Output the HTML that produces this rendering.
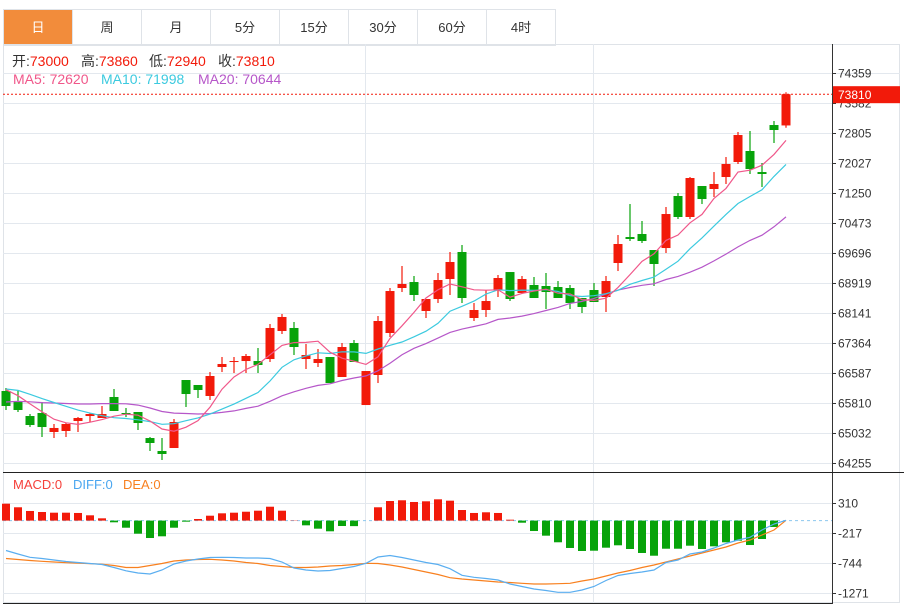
<!DOCTYPE html>
<html><head><meta charset="utf-8">
<style>
body{margin:0;background:#fff;width:904px;height:605px;overflow:hidden;font-family:"Liberation Sans","Noto Sans CJK SC",sans-serif;}
#wrap{position:relative;width:904px;height:605px;}
.tabs{position:absolute;left:3px;top:9px;height:35px;display:flex;border:1px solid #dfe3e8;border-right:none;}
.tab{width:69px;height:35px;border-right:1px solid #dfe3e8;text-align:center;line-height:35px;font-size:13px;color:#333;box-sizing:border-box;}
.tab.active{background:#f28c3b;color:#fff;}
.lg{position:absolute;font-size:14px;white-space:nowrap;line-height:16px;}
.lm{position:absolute;font-size:13px;white-space:nowrap;line-height:16px;}
</style></head><body>
<div id="wrap">
<div class="tabs">
<div class="tab active">日</div>
<div class="tab">周</div>
<div class="tab">月</div>
<div class="tab">5分</div>
<div class="tab">15分</div>
<div class="tab">30分</div>
<div class="tab">60分</div>
<div class="tab">4时</div>
</div>
<svg id="chart" width="904" height="605" style="position:absolute;left:0;top:0"></svg>
<div>
<span class="lg" style="left:12px;top:53px"><span style="color:#333">开:</span><span style="color:#f21a0a">73000</span></span>
<span class="lg" style="left:81px;top:53px"><span style="color:#333">高:</span><span style="color:#f21a0a">73860</span></span>
<span class="lg" style="left:149px;top:53px"><span style="color:#333">低:</span><span style="color:#f21a0a">72940</span></span>
<span class="lg" style="left:218px;top:53px"><span style="color:#333">收:</span><span style="color:#f21a0a">73810</span></span>
</div>
<div>
<span class="lg" style="left:13px;top:71px;color:#f0578a">MA5: 72620</span>
<span class="lg" style="left:101px;top:71px;color:#3ccadf">MA10: 71998</span>
<span class="lg" style="left:198px;top:71px;color:#b657c9">MA20: 70644</span>
</div>
<div>
<span class="lm" style="left:13px;top:477px;color:#f5403a">MACD:0</span>
<span class="lm" style="left:73px;top:477px;color:#4aa6f0">DIFF:0</span>
<span class="lm" style="left:123px;top:477px;color:#f8801f">DEA:0</span>
</div>
</div>
<script>
const openV=[66119,65860,65471,65549,65057,65083,65342,65471,65420,65964,65549,65575,64901,64565,64642,66404,66275,65990,66741,66871,66896,66896,66948,67674,67752,66948,66845,67000,66482,67363,65756,66534,67622,68788,68943,68192,68503,69021,69721,68011,68218,68736,69202,68658,68866,68840,68814,68788,68529,68736,68555,69436,70109,70187,69772,69824,71172,70628,71431,71353,71664,72053,72338,71793,73011,73000];
const highV=[66197,66145,65523,65834,65264,65290,65445,65549,65731,66171,65679,65575,64927,64901,65394,66404,66275,66611,67000,67000,67078,67233,67855,68114,67907,67337,67207,67000,67363,67441,66637,68062,68788,69358,69099,68503,69177,69721,69902,68399,68736,69125,69202,69099,69073,69177,68969,68866,68529,68917,69099,70161,70964,70524,69772,70887,71249,71664,71431,71793,72182,72830,72856,72027,73115,73860];
const lowV=[65627,65575,65186,64927,64901,64927,65057,65316,65420,65601,65445,65109,64565,64331,64642,65705,65938,65886,66611,66586,66586,66586,66871,67596,67052,66689,66741,66326,66482,66871,65756,66326,67518,68684,68451,68011,68399,68607,68399,67933,68037,68555,68451,68658,68529,68244,68529,68244,68140,68425,68166,69228,70006,69954,68840,69695,70576,70576,70964,71146,71483,72001,71742,71405,72545,72940];
const closeV=[65731,65627,65238,65186,65161,65264,65420,65523,65523,65601,65523,65290,64772,64487,65316,66041,66145,66508,66819,66896,67026,66793,67752,68037,67259,67052,66948,66326,67259,66871,66637,67933,68710,68892,68607,68503,68995,69462,68529,68218,68451,69047,68503,69021,68529,68684,68529,68399,68296,68425,68969,69928,70058,70006,69410,70705,70628,71638,71094,71483,72001,72752,71871,71742,72882,73810];
const priorClose=[65300,65450,65600,65380,65520,65700,65480,65350,65590,65600,66000,66250,66300,66150,66250,66400,66300,66200,66129];
const priceTicks=[74359,73582,72805,72027,71250,70473,69696,68919,68141,67364,66587,65810,65032,64255];
const macdHist=[297,234,169,151,139,139,134,93,40,-30,-125,-230,-306,-276,-125,-19,28,86,128,139,156,174,244,174,5,-83,-142,-188,-95,-97,0,234,344,357,327,339,374,350,186,134,146,134,16,-37,-183,-265,-381,-481,-534,-529,-476,-434,-499,-569,-617,-494,-494,-441,-499,-452,-381,-353,-429,-323,-112,0];
const diffV=[-525,-587,-645,-666,-692,-719,-736,-754,-771,-824,-882,-921,-938,-868,-763,-710,-675,-648,-645,-648,-657,-657,-666,-727,-833,-868,-886,-877,-842,-806,-750,-640,-613,-648,-692,-736,-771,-845,-961,-996,-1017,-1044,-1114,-1158,-1202,-1228,-1260,-1260,-1219,-1158,-1052,-965,-929,-903,-868,-736,-692,-587,-552,-481,-402,-341,-293,-165,-60,5];
const deaV=[-666,-683,-701,-715,-727,-740,-748,-757,-766,-789,-824,-824,-789,-754,-710,-692,-683,-680,-692,-710,-736,-754,-789,-806,-824,-824,-815,-798,-789,-771,-750,-754,-780,-815,-859,-903,-947,-1003,-1026,-1044,-1061,-1079,-1088,-1102,-1114,-1114,-1109,-1102,-1061,-1026,-973,-921,-877,-824,-780,-727,-675,-622,-569,-517,-464,-394,-341,-253,-165,5];
const macdTicks=[310,-217,-744,-1271];
const lastPrice=73810;

const svg=document.getElementById('chart');
const NS='http://www.w3.org/2000/svg';
function mk(tag,attrs,parent){const e=document.createElementNS(NS,tag);for(const k in attrs)e.setAttribute(k,attrs[k]);(parent||svg).appendChild(e);return e;}
const X0=6,STEP=12,AX=832;
const xAt=i=>X0+STEP*i;
const yP=v=>73+(74359-v)/777.333*30;
const yM=v=>520.6-v/17.57;
const RED='#f21a0a',GREEN='#07a30a';

let e;
e=mk('rect',{x:3.5,y:44.5,width:896,height:558,fill:'none',stroke:'#dfe3e8'});

const g=mk('g',{});

priceTicks.forEach(t=>{const y=Math.round(yP(t))+0.5;mk('line',{x1:3,x2:AX,y1:y,y2:y,stroke:'#e3e8ee'},g);});
macdTicks.forEach(t=>{const y=Math.round(yM(t))+0.5;mk('line',{x1:3,x2:AX,y1:y,y2:y,stroke:'#e3e8ee'},g);});
mk('line',{x1:3,x2:900,y1:73.5,y2:73.5,stroke:'#e3e8ee'},g);
[365.5,593.5].forEach(x=>mk('line',{x1:x,x2:x,y1:44,y2:603,stroke:'#e3e8ee'},g));
e=mk('line',{x1:AX+0.5,x2:AX+0.5,y1:44,y2:604,stroke:'#333'});

e=mk('line',{x1:3,x2:904,y1:472.5,y2:472.5,stroke:'#222'});

e=mk('line',{x1:3,x2:AX,y1:603.5,y2:603.5,stroke:'#222'});

priceTicks.forEach(t=>{const y=Math.round(yP(t))+0.5;
 mk('line',{x1:AX,x2:AX+4,y1:y,y2:y,stroke:'#333'});
 const tx=mk('text',{x:838,y:y+4,'font-size':12,fill:'#333','font-family':'Liberation Sans, sans-serif'});
 tx.textContent=t;
 });
macdTicks.forEach(t=>{const y=Math.round(yM(t))+0.5;
 mk('line',{x1:AX,x2:AX+4,y1:y,y2:y,stroke:'#333'});
 const tx=mk('text',{x:838,y:y+4,'font-size':12,fill:'#333','font-family':'Liberation Sans, sans-serif'});
 tx.textContent=t;
 });
const all=priorClose.concat(closeV);
function ma(n){const out=[];for(let i=0;i<closeV.length;i++){const j=i+priorClose.length;let s=0;for(let k=j-n+1;k<=j;k++)s+=all[k];out.push(s/n);}return out;}
function line(vals,fy,color,name){const p=vals.map((v,i)=>(i?'L':'M')+xAt(i)+','+fy(v).toFixed(1)).join('');
 const l=mk('path',{d:p,fill:'none',stroke:color,'stroke-width':1.2});
 }
for(let i=0;i<closeV.length;i++){
 const up=closeV[i]>=openV[i];const c=up?RED:GREEN;const x=xAt(i);
 const cg=mk('g',{});
 
 mk('line',{x1:x,x2:x,y1:yP(highV[i]),y2:yP(lowV[i]),stroke:c,'stroke-width':1.2},cg);
 const t=yP(Math.max(openV[i],closeV[i])),b=yP(Math.min(openV[i],closeV[i]));
 mk('rect',{x:x-4.5,y:t,width:9,height:Math.max(1,b-t),fill:c},cg);
}
line(ma(20),yP,'#b657c9','ma20-line');
line(ma(10),yP,'#3ccadf','ma10-line');
line(ma(5),yP,'#f0578a','ma5-line');
e=mk('line',{x1:3,x2:AX,y1:yP(lastPrice),y2:yP(lastPrice),stroke:'#f21a0a','stroke-dasharray':'2,2'});

const ly=yP(lastPrice);
e=mk('rect',{x:833,y:ly-8,width:67,height:17,fill:'#f21a0a'});

e=mk('text',{x:838,y:ly+5,'font-size':12,fill:'#fff','font-family':'Liberation Sans, sans-serif'});
e.textContent=lastPrice;

e=mk('line',{x1:3,x2:AX,y1:yM(0),y2:yM(0),stroke:'#8cc8ee','stroke-dasharray':'3,3'});

macdHist.forEach((v,i)=>{const y0=yM(0),y1=yM(v);
 const r=mk('rect',{x:xAt(i)-4,y:Math.min(y0,y1),width:8,height:Math.abs(y1-y0),fill:v>=0?RED:GREEN});
 });
line(deaV,yM,'#f8801f','dea-line');
line(diffV,yM,'#5aaef0','diff-line');
</script>
</body></html>
